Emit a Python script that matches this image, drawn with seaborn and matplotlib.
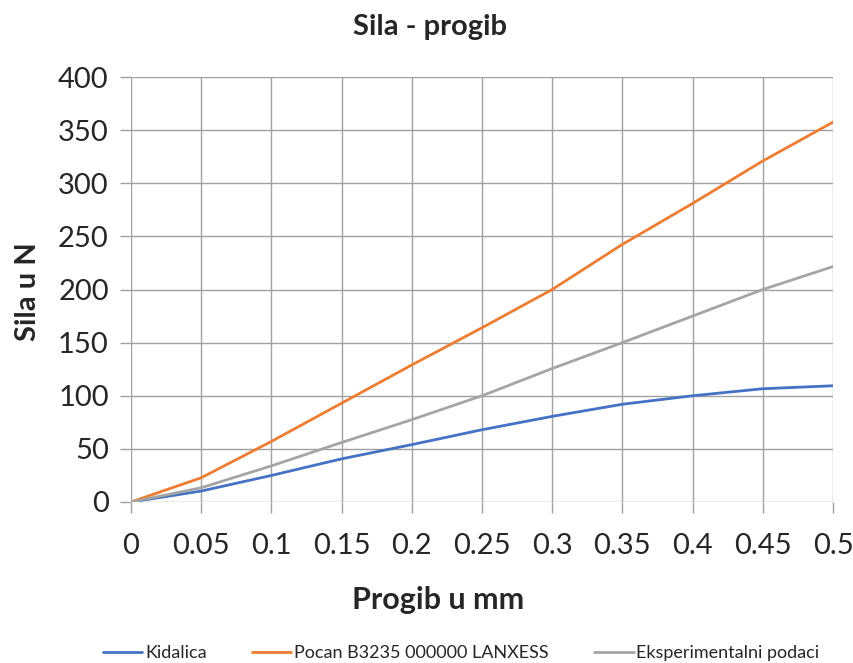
import numpy as np
import pandas as pd
import matplotlib
matplotlib.use("Agg")
import matplotlib.pyplot as plt
import seaborn as sns

progib = [0, 0.05, 0.1, 0.15, 0.2, 0.25, 0.3, 0.35, 0.4, 0.45, 0.5]
kidalica = [0, 10.3, 25, 40.6, 54, 68, 80.6, 92, 100, 106.6, 109.4]
pocan = [0, 22.8, 57, 93, 129, 164, 200, 242.5, 281, 321, 357.5]
eksperiment = [0, 13.4, 34, 56, 77.5, 100, 125.6, 150, 175, 200, 221.6]
names = ["Kidalica", "Pocan B3235 000000 LANXESS", "Eksperimentalni podaci"]
colors = ["#4472C4", "#ED7D31", "#A5A5A5"]

df = pd.DataFrame({"Progib": progib, names[0]: kidalica, names[1]: pocan, names[2]: eksperiment})
df = df.melt(id_vars="Progib", var_name="Serija", value_name="Sila")

sns.set_style("white")
plt.rcParams["font.family"] = ["Lato", "DejaVu Sans"]

fig = plt.figure(figsize=(8.54, 6.63), dpi=100)
ax = fig.add_axes([131 / 854, 1 - 502 / 663, 702 / 854, 425 / 663])

sns.lineplot(data=df, x="Progib", y="Sila", hue="Serija", palette=colors,
             linewidth=2, ax=ax, legend=False)

ax.set_xlim(0, 0.5)
ax.set_ylim(0, 400)
ax.set_xticks(progib)
ax.set_xticklabels(["0", "0.05", "0.1", "0.15", "0.2", "0.25", "0.3", "0.35", "0.4", "0.45", "0.5"])
ax.set_yticks(range(0, 401, 50))
ax.grid(True, color="#A0A0A0", linewidth=1)
for s in ax.spines.values():
    s.set_visible(False)
ax.tick_params(axis="both", length=8, width=1, color="#A0A0A0", labelsize=21,
               direction="out", left=True, bottom=True)
ax.tick_params(axis="x", pad=14)
ax.tick_params(axis="y", pad=8)
ax.set_xlabel("")
ax.set_ylabel("")

fig.text(430 / 854, 1 - 27 / 663, "Sila - progib", ha="center", va="center", fontsize=21, fontweight="bold")
fig.text(28 / 854, 1 - 292 / 663, "Sila u N", ha="center", va="center", rotation=90, fontsize=21, fontweight="bold")
fig.text(438 / 854, 1 - 600 / 663, "Progib u mm", ha="center", va="center", fontsize=22, fontweight="bold")

handles = [plt.Line2D([], [], color=c, linewidth=2) for c in colors]
fig.legend(handles, names, loc="center", bbox_to_anchor=(461 / 854, 1 - 653 / 663), ncol=3,
           frameon=False, fontsize=13, handlelength=2.2, handletextpad=0.15, columnspacing=2.5)

fig.savefig("out.png", dpi=100)
